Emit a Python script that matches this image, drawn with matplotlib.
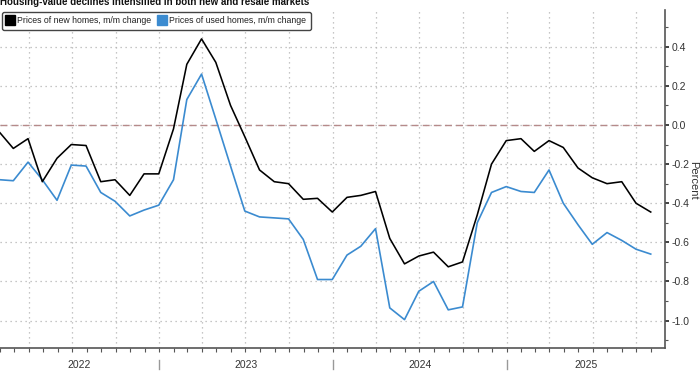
"""Housing-value declines: new vs used home prices, m/m change."""

import matplotlib

matplotlib.use("Agg")
import matplotlib.dates as mdates
import matplotlib.pyplot as plt
import pandas as pd
from matplotlib.lines import Line2D

plt.rcParams["font.family"] = ["Liberation Sans", "DejaVu Sans"]

TITLE = "Housing-value declines intensified in both new and resale markets"
NEW_LABEL = "Prices of new homes, m/m change"
USED_LABEL = "Prices of used homes, m/m change"

# monthly readings, Jan 2022 .. Oct 2025
new_homes = [
    -0.04, -0.12, -0.07, -0.29, -0.17, -0.10, -0.105, -0.29, -0.28, -0.36, -0.25, -0.25,
    -0.02, 0.31, 0.44, 0.32, 0.10, -0.06, -0.23, -0.29, -0.30, -0.38, -0.375, -0.445,
    -0.37, -0.36, -0.34, -0.58, -0.71, -0.67, -0.65, -0.725, -0.70, -0.46, -0.20, -0.08,
    -0.07, -0.135, -0.08, -0.115, -0.22, -0.27, -0.30, -0.29, -0.40, -0.445,
]
used_homes = [
    -0.28, -0.285, -0.19, -0.28, -0.385, -0.205, -0.21, -0.345, -0.39, -0.465, -0.435, -0.41,
    -0.28, 0.13, 0.26, 0.03, -0.21, -0.44, -0.47, -0.475, -0.48, -0.585, -0.79, -0.79,
    -0.665, -0.62, -0.53, -0.935, -0.995, -0.85, -0.80, -0.945, -0.93, -0.50, -0.345, -0.315,
    -0.34, -0.345, -0.23, -0.40, -0.51, -0.61, -0.55, -0.59, -0.635, -0.66,
]
dates = pd.date_range("2022-01-31", periods=len(new_homes), freq="ME")
year_labels = ["2022", "2023", "2024", "2025"]
y_ticks = [-1.0, -0.8, -0.6, -0.4, -0.2, 0.0, 0.2, 0.4]

BLACK = "#000000"
BLUE = "#3b8bd0"
GRID = "#b4b4b4"
AXIS = "#555555"

fig = plt.figure(figsize=(7, 3.75), dpi=100)
ax = fig.add_axes([0.0, 0.072, 0.95, 0.901])

ax.plot(dates, new_homes, color=BLACK, lw=1.15, zorder=4)
ax.plot(dates, used_homes, color=BLUE, lw=1.2, zorder=3)
ax.axhline(0, color="#b58a8a", lw=1.0, ls=(0, (5, 3)), zorder=2)

x_left = pd.Timestamp("2022-01-31")
x_right = pd.Timestamp("2025-11-30")
ax.set_xlim(x_left, x_right)
ax.set_ylim(-1.14, 0.587)

# y axis on the right
ax.yaxis.tick_right()
ax.set_yticks(y_ticks)
ax.set_yticklabels([f"{v:.1f}" for v in y_ticks])
ax.yaxis.set_minor_locator(matplotlib.ticker.MultipleLocator(0.1))
ax.tick_params(axis="y", which="major", direction="out", length=3, width=1.2,
               color="#222222", labelsize=7.5, labelcolor="#333333", pad=1.5)
ax.tick_params(axis="y", which="minor", direction="out", length=2.5, width=0.8, color=AXIS)
fig.text(693 / 700, 1 - 180 / 375, "Percent", rotation=270, fontsize=8,
         color="#333333", ha="center", va="center")

# x axis: quarterly grid, monthly minor ticks, year labels between separators
ax.xaxis.set_major_locator(mdates.MonthLocator(bymonth=[1, 4, 7, 10]))
ax.xaxis.set_minor_locator(mdates.MonthLocator())
ax.tick_params(axis="x", which="both", direction="out", length=3, width=0.8,
               color=AXIS, labelbottom=False)

ax.grid(True, which="major", color=GRID, lw=0.9, ls=(0, (1, 3)))
ax.set_axisbelow(True)

for side in ("top", "left"):
    ax.spines[side].set_visible(False)
for side in ("bottom", "right"):
    ax.spines[side].set_color(AXIS)
    ax.spines[side].set_linewidth(1.2)

trans = matplotlib.transforms.blended_transform_factory(ax.transData, ax.transAxes)
for label in year_labels:
    start = max(pd.Timestamp(f"{label}-01-01"), x_left)
    end = min(pd.Timestamp(f"{int(label) + 1}-01-01"), x_right)
    mid = start + (end - start) / 2
    ax.text(mid, -0.05, label, transform=trans, ha="center", va="center",
            fontsize=7.5, color="#333333")
    if int(label) > 2022:
        ax.add_line(Line2D([start, start], [-0.035, -0.062], transform=trans,
                           color="#999999", lw=1.0, clip_on=False))

handles = [
    Line2D([], [], marker="s", ls="none", color=BLACK, markersize=6.5),
    Line2D([], [], marker="s", ls="none", color=BLUE, markersize=6.5),
]
leg = ax.legend(handles, [NEW_LABEL, USED_LABEL], ncol=2, loc="upper left",
                bbox_to_anchor=(2 / 700, 1 - 12 / 375), bbox_transform=fig.transFigure,
                borderaxespad=0, fontsize=6.3, frameon=True, fancybox=True,
                handlelength=0.8, handletextpad=0.4, columnspacing=0.9,
                borderpad=0.5, framealpha=1)
leg.get_frame().set_edgecolor("#444444")
leg.get_frame().set_linewidth(1.0)
for txt in leg.get_texts():
    txt.set_color("#222222")

fig.text(0.0, 1 - 5 / 375, TITLE, fontsize=7.0, fontweight="bold",
         ha="left", va="baseline", color="#111111")

fig.savefig("out.png", dpi=100)
